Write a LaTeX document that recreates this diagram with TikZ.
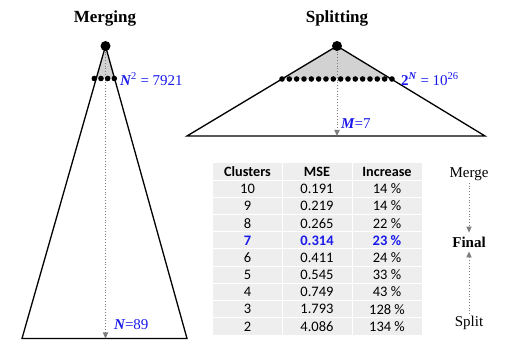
\documentclass[tikz,border=0pt]{standalone}
\usepackage{fontspec}
\setmainfont{Liberation Serif}
\newfontfamily\tabfont{Carlito}
\usetikzlibrary{arrows.meta,calc}
\definecolor{myblue}{RGB}{25,25,235}
\definecolor{tabbg}{RGB}{238,238,238}
\definecolor{flowgray}{RGB}{125,125,125}
\begin{document}
\begin{tikzpicture}[x=1pt,y=-1pt,
  dot/.style={circle,fill=black,inner sep=0pt,minimum size=5.6pt},
  apexdot/.style={circle,fill=black,inner sep=0pt,minimum size=10pt},
  edge/.style={line width=1.3pt,black,line join=miter},
  flow/.style={flowgray,dotted,line width=0.8pt,-{Triangle[width=5.5pt,length=6pt,line width=0pt]}},
  lbl/.style={text=myblue,font=\fontsize{15}{15}\selectfont,anchor=west,inner sep=0pt},
  title/.style={font=\fontsize{17}{17}\selectfont\bfseries,inner sep=0pt},
  side/.style={font=\fontsize{15}{15}\selectfont,inner sep=2pt},
  cell/.style={font=\tabfont\fontsize{14.5}{14.5}\selectfont,inner sep=0pt},
  norm/.style={},
  hl/.style={text=myblue,font=\tabfont\fontsize{14.5}{14.5}\selectfont\bfseries},
  hd/.style={font=\tabfont\fontsize{14.2}{14.2}\selectfont\bfseries}]
\useasboundingbox (0,0) rectangle (530,344);

% ---------- Merging ----------
\node[title] (tm) at (105,18) {Merging};
\coordinate (mA) at (105.5,46);
\coordinate (mBL) at (22,338.5);
\coordinate (mBR) at (187,338.5);
\fill[gray!35] (mA) -- ($(mA)!0.111!(mBL)$) -- ($(mA)!0.111!(mBR)$) -- cycle;
\draw[edge] (mA) -- (mBL) -- (mBR) -- cycle;
\draw[flow] (mA) -- (mA |- mBL);
\foreach \x [count=\i] in {94.3,101,107.7,114.3}
  \node[dot] (md\i) at (\x,78.5) {};
\node[apexdot] (ma) at (mA) {};
\node[lbl] (nl1) at (120,79) {{\bfseries\itshape N}\textsuperscript{2} = 7921};
\node[lbl] (nl2) at (114,325) {{\bfseries\itshape N}=89};

% ---------- Splitting ----------
\node[title] (ts) at (337,18) {Splitting};
\coordinate (sA) at (337,46);
\coordinate (sBL) at (187,136);
\coordinate (sBR) at (485,136);
\fill[gray!35] (sA) -- ($(sA)!0.3667!(sBL)$) -- ($(sA)!0.3667!(sBR)$) -- cycle;
\draw[edge] (sA) -- (sBL) -- (sBR) -- cycle;
\draw[flow] (sA) -- (sA |- sBL);
\foreach \i in {0,...,15}
  \node[dot] (sd\i) at ({282+7.33*\i},79) {};
\node[apexdot] (sa) at (sA) {};
\node[lbl] (sl1) at (401,79) {\textbf{2}\textsuperscript{\bfseries\itshape N} = 10\textsuperscript{26}};
\node[lbl] (sl2) at (341,124) {{\bfseries\itshape M}=7};

% ---------- Table ----------
\fill[tabbg] (213,163) rectangle (422,335);
\foreach \k in {1,...,9}
  \draw[white,line width=1pt] (213,{163+17.2*\k}) -- (422,{163+17.2*\k});
\foreach \xx in {282,352}
  \draw[white,line width=1pt] (\xx,163) -- (\xx,335);
\node[cell,hd] (h1) at (247.5,171.6) {Clusters};
\node[cell,hd] (h2) at (317,171.6) {MSE};
\node[cell,hd] (h3) at (387,171.6) {Increase};
\foreach \c/\m/\p/\s [count=\i] in {10/0.191/14 \%/norm, 9/0.219/14 \%/norm, 8/0.265/22 \%/norm,
   7/0.314/23 \%/hl, 6/0.411/24 \%/norm, 5/0.545/33 \%/norm, 4/0.749/43 \%/norm,
   3/1.793/128 \%/norm, 2/4.086/134 \%/norm}{
  \node[cell,\s] (r\i a) at (247.5,{171.6+17.2*\i}) {\c};
  \node[cell,\s] (r\i b) at (317,{171.6+17.2*\i}) {\m};
  \node[cell,\s] (r\i c) at (387,{171.6+17.2*\i}) {\p};
}

% ---------- Side ----------
\node[side] (merge) at (469,174) {Merge};
\node[side,font=\fontsize{15}{15}\selectfont\bfseries] (final) at (469,242) {Final};
\node[side] (split) at (469,323) {Split};
\draw[flow,shorten >=2pt] (merge) -- (final);
\draw[flow,shorten >=2pt] (split) -- (final);
\end{tikzpicture}
\end{document}
